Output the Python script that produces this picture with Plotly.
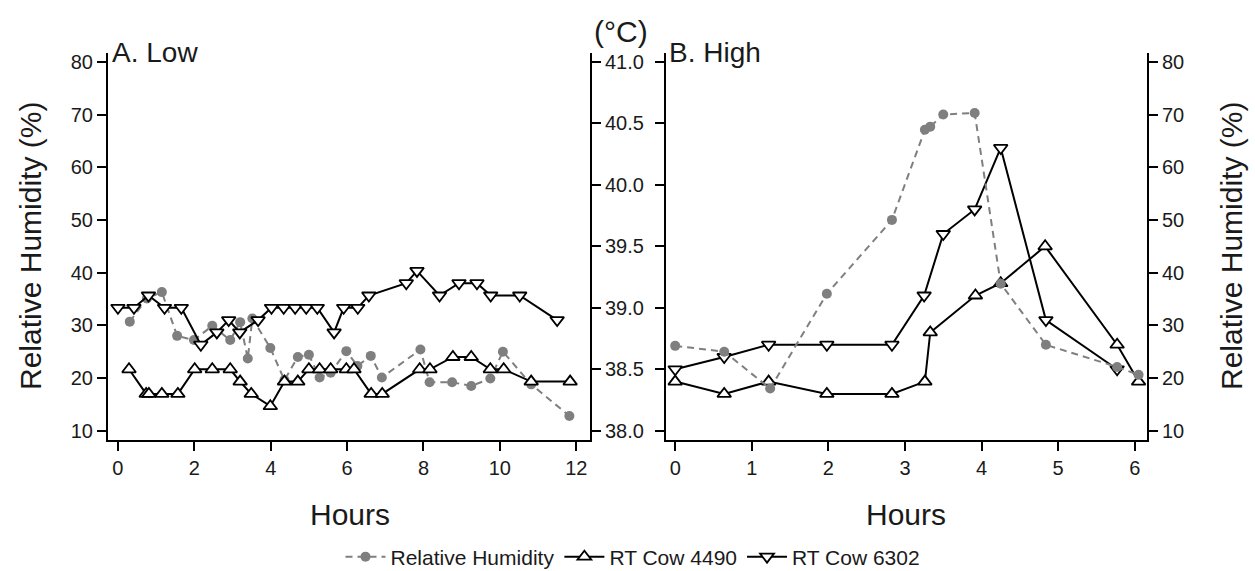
import plotly.graph_objects as go

# ---------------- data ----------------
# Panel A (Low): hours
low_rh_hours = [0.31, 0.76, 1.15, 1.55, 1.99, 2.47, 2.94, 3.20, 3.40, 3.52, 3.99, 4.36, 4.71, 5.00,
                5.28, 5.57, 5.98, 6.27, 6.62, 6.91, 7.92, 8.16, 8.75, 9.25, 9.75, 10.08, 10.82, 11.82]
low_rh = [30.7, 35.1, 36.3, 28.0, 27.2, 29.9, 27.2, 30.6, 23.7, 31.3, 25.7, 19.6, 24.0, 24.4,
          20.1, 21.0, 25.1, 22.3, 24.2, 20.1, 25.4, 19.2, 19.2, 18.5, 19.9, 25.0, 18.8, 12.8]

low_4490_hours = [0.29, 0.74, 0.81, 1.15, 1.57, 2.01, 2.47, 2.94, 3.20, 3.49, 3.99, 4.36, 4.71, 5.00,
                  5.28, 5.57, 5.98, 6.18, 6.63, 6.92, 7.90, 8.17, 8.77, 9.25, 9.75, 10.10, 10.82, 11.84]
low_4490 = [38.5, 38.3, 38.3, 38.3, 38.3, 38.5, 38.5, 38.5, 38.4, 38.3, 38.2, 38.4, 38.4, 38.5,
            38.5, 38.5, 38.5, 38.5, 38.3, 38.3, 38.5, 38.5, 38.6, 38.6, 38.5, 38.5, 38.4, 38.4]

low_6302_hours = [0.0, 0.42, 0.80, 1.22, 1.66, 2.17, 2.59, 2.90, 3.19, 3.67, 4.02, 4.34, 4.64, 4.93,
                  5.22, 5.66, 5.91, 6.28, 6.57, 7.55, 7.83, 8.42, 8.93, 9.40, 9.76, 10.52, 11.50]
low_6302 = [39.0, 39.0, 39.1, 39.0, 39.0, 38.7, 38.8, 38.9, 38.8, 38.9, 39.0, 39.0, 39.0, 39.0,
            39.0, 38.8, 39.0, 39.0, 39.1, 39.2, 39.3, 39.1, 39.2, 39.2, 39.1, 39.1, 38.9]

# Panel B (High)
high_rh_hours = [0.0, 0.64, 1.24, 1.98, 2.83, 3.26, 3.33, 3.50, 3.91, 4.25, 4.84, 5.77, 6.05]
high_rh = [26.1, 25.0, 18.0, 36.0, 50.0, 67.1, 67.7, 70.0, 70.3, 37.9, 26.3, 22.1, 20.6]

high_4490_hours = [0.0, 0.64, 1.22, 1.98, 2.83, 3.26, 3.33, 3.92, 4.25, 4.83, 5.77, 6.05]
high_4490 = [38.4, 38.3, 38.4, 38.3, 38.3, 38.4, 38.8, 39.1, 39.2, 39.5, 38.7, 38.4]

high_6302_hours = [0.0, 0.64, 1.22, 1.98, 2.83, 3.25, 3.50, 3.91, 4.25, 4.84, 5.77]
high_6302 = [38.5, 38.6, 38.7, 38.7, 38.7, 39.1, 39.6, 39.8, 40.3, 38.9, 38.5]

rh_ticks = [10, 20, 30, 40, 50, 60, 70, 80]
temp_ticks = [38.0, 38.5, 39.0, 39.5, 40.0, 40.5, 41.0]
low_hour_ticks = [0, 2, 4, 6, 8, 10, 12]
high_hour_ticks = [0, 1, 2, 3, 4, 5, 6]

# ---------------- styling ----------------
W, H = 1255, 571
FONT = "Liberation Sans, Arial, sans-serif"
TXT = "#1a1a1a"
GREY = "#7f7f7f"

def px_x(p):
    return p / W

def px_y(p):
    return 1 - p / H

ydom = [px_y(440), px_y(53)]
rh_range = [8.24, 81.67]
temp_range = [37.925, 41.072]

rh_style = dict(mode="lines+markers", line=dict(color=GREY, width=2, dash="7px,5px"),
                marker=dict(symbol="circle", size=10, color=GREY))
c4490_style = dict(mode="lines+markers", line=dict(color="black", width=2),
                   marker=dict(symbol="triangle-up", size=12, color="white",
                               line=dict(color="black", width=1.8)))
c6302_style = dict(mode="lines+markers", line=dict(color="black", width=2),
                   marker=dict(symbol="triangle-down", size=12, color="white",
                               line=dict(color="black", width=1.8)))

fig = go.Figure()
fig.add_trace(go.Scatter(x=low_rh_hours, y=low_rh, name="Relative Humidity", legendgroup="rh",
                         xaxis="x", yaxis="y", **rh_style))
fig.add_trace(go.Scatter(x=low_4490_hours, y=low_4490, name="RT Cow 4490", legendgroup="a",
                         xaxis="x", yaxis="y2", **c4490_style))
fig.add_trace(go.Scatter(x=low_6302_hours, y=low_6302, name="RT Cow 6302", legendgroup="b",
                         xaxis="x", yaxis="y2", **c6302_style))
fig.add_trace(go.Scatter(x=high_rh_hours, y=high_rh, name="Relative Humidity", legendgroup="rh",
                         showlegend=False, xaxis="x2", yaxis="y4", **rh_style))
fig.add_trace(go.Scatter(x=high_4490_hours, y=high_4490, name="RT Cow 4490", legendgroup="a",
                         showlegend=False, xaxis="x2", yaxis="y3", **c4490_style))
fig.add_trace(go.Scatter(x=high_6302_hours, y=high_6302, name="RT Cow 6302", legendgroup="b",
                         showlegend=False, xaxis="x2", yaxis="y3", **c6302_style))

axis_common = dict(showline=True, linecolor="black", linewidth=2, ticks="outside", ticklen=9,
                   tickwidth=2, tickcolor="black", showgrid=False, zeroline=False,
                   tickfont=dict(family=FONT, size=20, color=TXT))

fig.update_layout(
    width=W, height=H,
    margin=dict(l=0, r=0, t=0, b=0, autoexpand=False),
    paper_bgcolor="white", plot_bgcolor="white",
    font=dict(family=FONT, color=TXT),
    xaxis=dict(domain=[px_x(108), px_x(590)], range=[-0.26, 12.36], tickvals=low_hour_ticks,
               anchor="y", **axis_common),
    yaxis=dict(domain=ydom, range=rh_range, tickvals=rh_ticks, anchor="x", **axis_common),
    yaxis2=dict(range=temp_range, tickvals=temp_ticks, tickformat=".1f", overlaying="y",
                side="right", anchor="x", **axis_common),
    xaxis2=dict(domain=[px_x(666), px_x(1147)], range=[-0.12, 6.16], tickvals=high_hour_ticks,
                anchor="y3", **axis_common),
    yaxis3=dict(domain=ydom, range=temp_range, tickvals=temp_ticks, showticklabels=False,
                anchor="x2", **axis_common),
    yaxis4=dict(range=rh_range, tickvals=rh_ticks, overlaying="y3", side="right", anchor="x2",
                **axis_common),
    legend=dict(orientation="h", x=px_x(633), xanchor="center", y=px_y(557), yanchor="middle",
                itemwidth=40, font=dict(family=FONT, size=21, color=TXT),
                bgcolor="rgba(0,0,0,0)"),
    showlegend=True,
)

def ann(text, x, y, size=28, xanchor="center", angle=0):
    fig.add_annotation(text=text, x=px_x(x), y=px_y(y), xref="paper", yref="paper",
                       showarrow=False, xanchor=xanchor, yanchor="middle", textangle=angle,
                       font=dict(family=FONT, size=size, color=TXT))

ann("A. Low", 110, 52, xanchor="left")
ann("B. High", 667, 52, xanchor="left")
ann("(°C)", 621, 31, size=30)
ann("Hours", 350, 514, size=30)
ann("Hours", 906, 514, size=30)
ann("Relative Humidity (%)", 30, 246, size=30, angle=-90)
ann("Relative Humidity (%)", 1231, 246, size=30, angle=-90)

fig.write_html("out.html")
